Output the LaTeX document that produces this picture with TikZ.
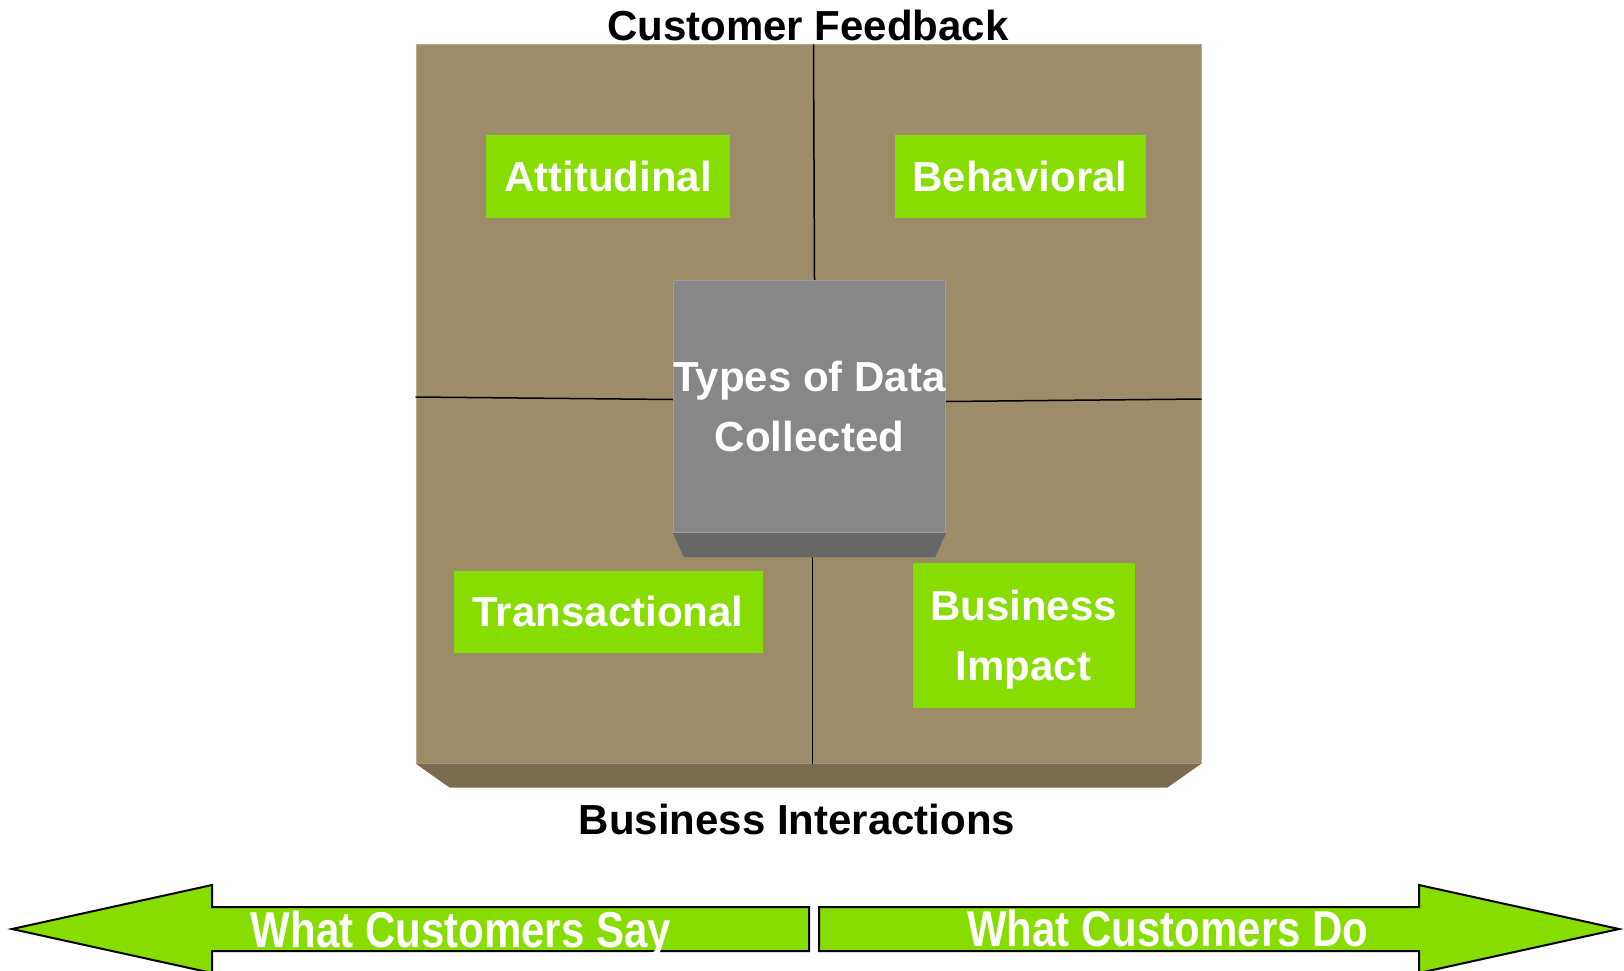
\documentclass[tikz,border=0pt]{standalone}
\usepackage{fontspec}
\setmainfont{Liberation Sans}
\usepackage{color}
\usetikzlibrary{positioning}
\definecolor{khaki}{HTML}{9D8C68}
\definecolor{khakidark}{HTML}{7A6D4F}
\definecolor{khakilight}{HTML}{B8AC8C}
\definecolor{slab}{HTML}{878787}
\definecolor{slabdark}{HTML}{676767}
\definecolor{slablight}{HTML}{9C9C9C}
\definecolor{leaf}{HTML}{88DD00}
\tikzset{
    quad/.style={
           rectangle,
           fill=leaf,
           text=white,
           inner sep=0pt,
           minimum height=82pt,
           text depth=0pt,
           align=center,
           font=\bfseries\fontsize{42}{60}\selectfont,
           },
    heading/.style={
           inner sep=0pt,
           font=\bfseries\fontsize{42}{50}\selectfont,
           },
    divider/.style={black, line width=1.5pt},
    bigarrow/.style={fill=leaf, draw=black, line width=2pt, line join=miter},
    arrowtext/.style={
           inner sep=0pt,
           text=white,
           anchor=base,
           font=\bfseries\fontsize{42}{50}\selectfont,
           },
}

\begin{document}
\begin{tikzpicture}[x=1pt, y=-1pt]
    \useasboundingbox (0,0) rectangle (1624,971);

    % the big board with its bottom bevel
    \node[fill=khaki, draw=khakilight, line width=1pt,
    minimum width=785pt, minimum height=718pt,
    anchor=center] (grid) at (808.5,404) {};
    \fill[khakidark] (grid.south west) -- (grid.south east)
        -- ++(-34,24) -- ([xshift=34pt, yshift=-24pt]grid.south west) -- cycle;

    % the block in the middle
    \node[fill=slab, draw=slablight, line width=1pt,
    inner sep=0pt,
    minimum width=270pt, minimum height=252pt,
    text=white, align=center, text depth=0pt,
    font=\bfseries\fontsize{42}{60}\selectfont,
    anchor=center] (core) at (809.5,406.5) {Types of Data\\Collected};
    \fill[slabdark] (core.south west) -- (core.south east)
        -- ++(-11,24) -- ([xshift=11pt, yshift=-24pt]core.south west) -- cycle;
    \coordinate (corefoot) at ([xshift=3pt, yshift=-24pt]core.south);

    % lines between the four fields
    \draw[divider] ([xshift=5pt]grid.north) -- ([xshift=5pt]core.north);
    \draw[divider] (corefoot) -- (corefoot |- grid.south);
    \draw[divider] ([yshift=7pt]grid.west) -- ([yshift=7pt]core.west);
    \draw[divider] ([yshift=5pt]core.east) -- ([yshift=5pt]grid.east);

    % the four fields
    \node[quad,                 % layout (defined above)
    minimum width=244pt,        % box width
    anchor=center] (attitudinal) at (608,176.5)
    {Attitudinal};

    \node[quad,                 % layout (defined above)
    minimum width=251pt,        % box width
    right of=attitudinal,
    node distance=412pt,
    anchor=center] (behavioral)
    {Behavioral};

    \node[quad,                 % layout (defined above)
    minimum width=309pt,        % box width
    below of=attitudinal,
    node distance=435pt,
    anchor=center] (transactional)
    {Transactional};

    \node[quad,                 % layout (defined above)
    minimum width=222pt,        % box width
    minimum height=145pt,
    anchor=center] (impact) at (1023.5,635)
    {Business\\Impact};

    % texts above and below the board
    \node[heading] (feedback) at (808,25) {Customer Feedback};
    \node[heading] (interactions) at (797,819) {Business Interactions};

    % the two arrows at the foot
    \draw[bigarrow] (809,907) -- (212,907) -- (212,885) -- (12,929)
        -- (212,973) -- (212,951) -- (809,951) -- cycle;
    \draw[bigarrow] (819,907) -- (1419,907) -- (1419,885) -- (1619,929)
        -- (1419,973) -- (1419,951) -- (819,951) -- cycle;
    \node[arrowtext] (say) at (461,947.5) {\scalebox{1}[1.2]{What Customers Say}};
    \node[arrowtext] (do) at (1168,946.5) {\scalebox{1}[1.2]{What Customers Do}};
\end{tikzpicture}
\end{document}
